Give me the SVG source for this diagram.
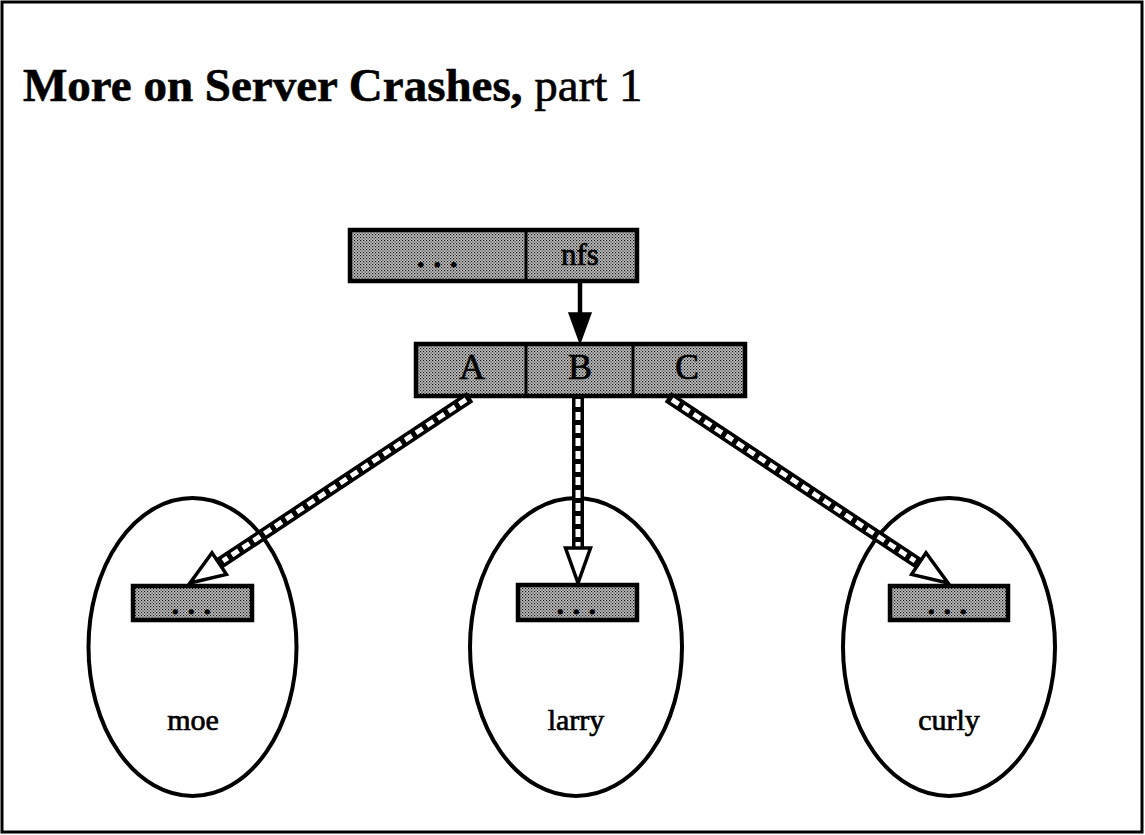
<svg xmlns="http://www.w3.org/2000/svg" width="1145" height="835" viewBox="0 0 1145 835">
<defs>
<pattern id="stip" width="3" height="3" patternUnits="userSpaceOnUse">
<rect width="3" height="3" fill="#c4c4c4"/>
<rect x="0" y="0" width="1.2" height="1.2" fill="#111"/>
<rect x="1.5" y="1.5" width="1.2" height="1.2" fill="#333"/>
</pattern>
<style>
.box{fill:url(#stip);stroke:#000;stroke-width:4.5}
.div{stroke:#000;stroke-width:3}
.lbl{font-family:"Liberation Serif","Times New Roman",serif;fill:#000;stroke:#000;stroke-width:0.7;text-anchor:middle}
.ell{fill:none;stroke:#000;stroke-width:4}
.shaft{fill:none;stroke:#000;stroke-width:12}
.hatch{fill:none;stroke:#fff;stroke-width:5;stroke-dasharray:8 5}
.head{fill:#fff;stroke:#000;stroke-width:3.5;stroke-linejoin:miter}
.dots{font-family:"Liberation Serif","Times New Roman",serif;font-weight:bold;fill:#000;stroke:#000;stroke-width:1.2;text-anchor:middle;letter-spacing:9.5px}
</style>
</defs>
<rect width="1145" height="835" fill="#fff"/>
<rect x="2" y="2" width="1140" height="830" fill="none" stroke="#000" stroke-width="3"/>
<text x="23" y="101" font-family="Liberation Serif, Times New Roman, serif" font-size="47" fill="#000" stroke="#000" stroke-width="0.6"><tspan font-weight="bold">More on Server Crashes,</tspan> part 1</text>

<g id="ellipses">
<g id="moe"><ellipse class="ell" cx="192.5" cy="647" rx="104" ry="149"/><text class="lbl" x="193" y="730" font-size="30">moe</text></g>
<g id="larry"><ellipse class="ell" cx="576" cy="647" rx="106" ry="149"/><text class="lbl" x="576" y="730" font-size="30">larry</text></g>
<g id="curly"><ellipse class="ell" cx="949" cy="647" rx="106" ry="149"/><text class="lbl" x="949" y="730" font-size="30">curly</text></g>
</g>

<g id="top-table">
<rect class="box" x="350" y="230" width="287" height="51"/>
<line class="div" x1="526" y1="230" x2="526" y2="281"/>
<text class="dots" x="442" y="267" font-size="28">...</text>
<text class="lbl" x="580" y="265" font-size="31">nfs</text>
</g>

<g id="mid-table">
<rect class="box" x="416" y="344" width="329" height="52"/>
<line class="div" x1="526" y1="344" x2="526" y2="396"/>
<line class="div" x1="633" y1="344" x2="633" y2="396"/>
<text class="lbl" x="472" y="379" font-size="36">A</text>
<text class="lbl" x="580" y="379" font-size="36">B</text>
<text class="lbl" x="687" y="379" font-size="36">C</text>
</g>

<g id="moe-table"><rect class="box" x="133" y="586" width="119" height="34"/><text class="dots" x="196" y="614" font-size="26">...</text></g>
<g id="larry-table"><rect class="box" x="518" y="585" width="119" height="35"/><text class="dots" x="581" y="614" font-size="26">...</text></g>
<g id="curly-table"><rect class="box" x="890" y="586" width="118" height="34"/><text class="dots" x="952" y="614" font-size="26">...</text></g>

<g id="connectors">
<line x1="580" y1="281" x2="580" y2="318" stroke="#000" stroke-width="4.5"/>
<polygon points="569,313 591,313 580,343" fill="#000" stroke="#000" stroke-width="1.5"/>

<line class="shaft" x1="470" y1="397" x2="219.2" y2="563.6"/>
<line class="hatch" x1="466" y1="399.7" x2="223" y2="561"/>
<polygon class="head" points="190,583 226.4,574.4 212,552.8"/>

<line class="shaft" x1="578" y1="397" x2="578" y2="548"/>
<line class="hatch" x1="578" y1="399" x2="578" y2="548"/>
<polygon class="head" points="578,583 565.5,548 590.5,548"/>

<line class="shaft" x1="668" y1="397" x2="918.8" y2="563.6"/>
<line class="hatch" x1="672" y1="399.7" x2="915" y2="561"/>
<polygon class="head" points="948,583 911.6,574.4 926,552.8"/>
</g>
</svg>
